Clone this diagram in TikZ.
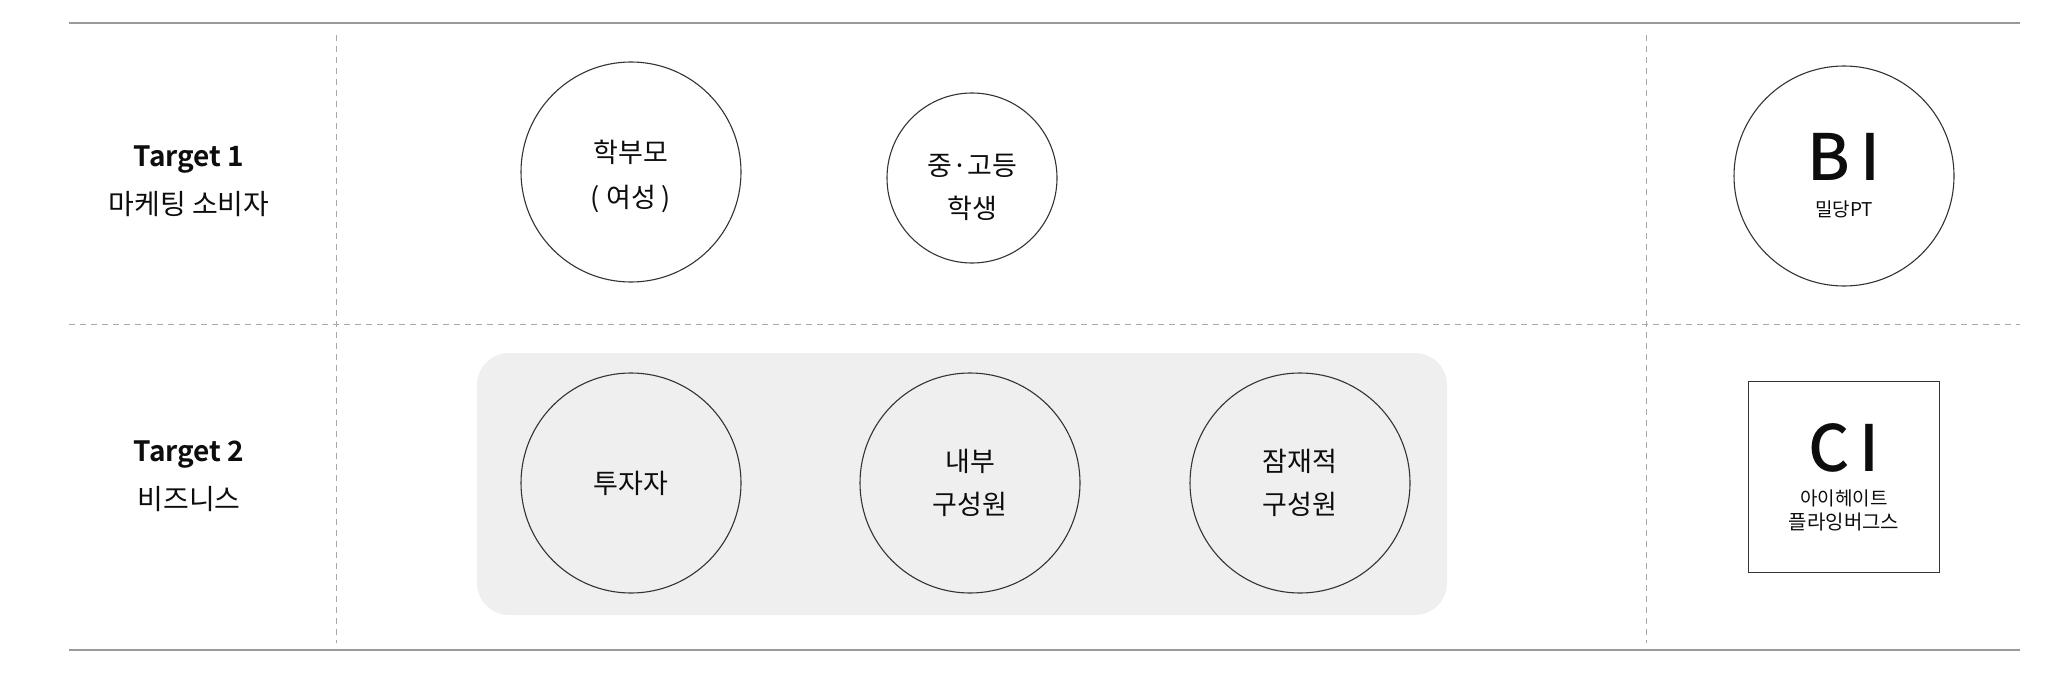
\documentclass[tikz,border=0pt]{standalone}
\usepackage{fontspec}
\setmainfont{Noto Sans CJK KR}[BoldFont={Noto Sans CJK KR Bold}]
\newfontfamily\logofont{Noto Sans CJK KR Medium}
\usetikzlibrary{positioning}
\definecolor{rulegray}{HTML}{9A9A9A}
\definecolor{dashgray}{HTML}{A8A8A8}
\definecolor{groupgray}{HTML}{EFEFEF}
\definecolor{inkgray}{HTML}{333333}
\newcommand{\lift}[1]{\rule{0pt}{#1}}

\begin{document}
\begin{tikzpicture}[x=0.5pt,y=-0.5pt,
    rule/.style={draw=rulegray, line width=1pt},
    grid/.style={draw=dashgray, line width=0.5pt, dash pattern=on 3pt off 2.5pt},
    rowlabel/.style={align=center, font=\fontsize{14}{24}\selectfont, text=black!95},
    person/.style={circle, draw=inkgray, line width=0.55pt, minimum size=110pt, inner sep=0pt,
        align=center, font=\fontsize{13.5}{21.5}\selectfont, text=black!95},
    brand/.style={draw=inkgray, line width=0.55pt, inner sep=0pt, align=center, text=black!95}]
    \useasboundingbox (0,0) rectangle (2048,674);
    % frame
    \draw[rule] (69,23.5) -- (2020,23.5);
    \draw[rule] (69,650) -- (2020,650);
    \draw[grid] (69,324) -- (2020,324);
    \draw[grid] (336,35) -- (336,643);
    \draw[grid] (1646,35) -- (1646,643);
    % row labels
    \node[rowlabel] (target1) at (189,181) {\textbf{Target 1}\\마케팅 소비자};
    \node[rowlabel] (target2) at (189,476) {\textbf{Target 2}\\비즈니스};
    % target 1
    \node[person, font=\fontsize{13.5}{22.5}\selectfont] (parent) at (631,172) {\lift{16pt}학부모\\( 여성 )};
    \node[person, minimum size=85pt] (student) at (972,178) {\lift{20pt}중·고등\\학생};
    \node[brand, circle, minimum size=110pt] (bi) at (1844,176)
        {{\logofont\fontsize{32}{32}\selectfont B\hspace{5pt}I}\\[6pt]\fontsize{9.5}{12}\selectfont 밀당PT};
    % target 2
    \fill[groupgray, rounded corners=16pt] (477,353) rectangle (1447,615);
    \node[person] (investor) at (631,483) {투자자};
    \node[person] (insider) at (970,483) {내부\\구성원};
    \node[person] (prospect) at (1300,483) {잠재적\\구성원};
    \node[brand, rectangle, minimum size=95.5pt] (ci) at (1844,477)
        {{\logofont\fontsize{32}{32}\selectfont C\hspace{5pt}I}\\[5pt]\fontsize{9.5}{14.5}\selectfont 아이헤이트\\플라잉버그스};
\end{tikzpicture}
\end{document}
